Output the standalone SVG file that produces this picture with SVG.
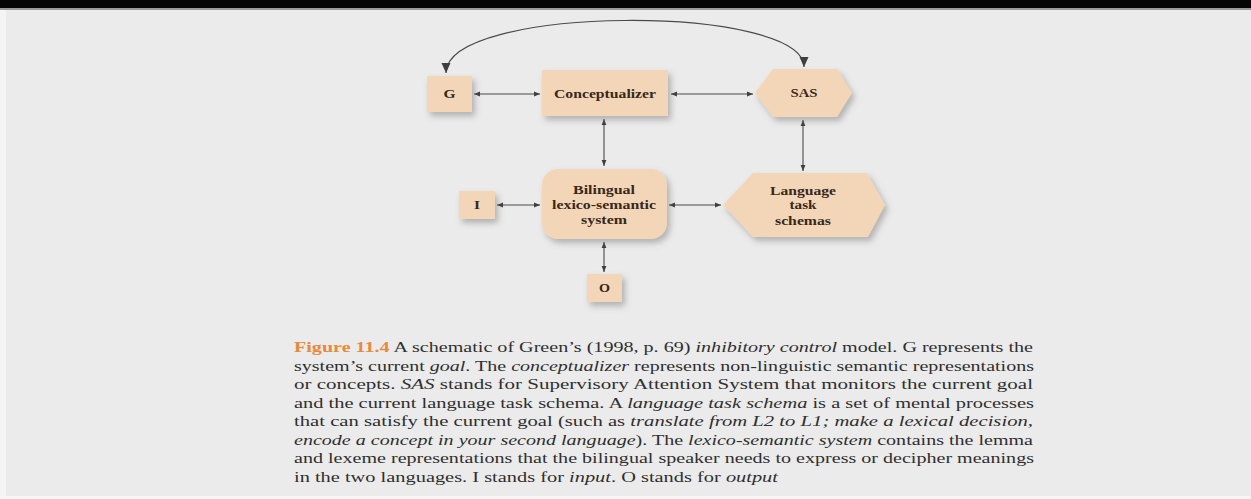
<svg xmlns="http://www.w3.org/2000/svg" width="1251" height="499" viewBox="0 0 1251 499">
  <style>
    .node { fill: #f3d6b7; filter: url(#shadow); }
    .label { font-family: "Liberation Serif", "Times New Roman", serif; font-weight: bold; font-size: 13px; fill: #38281b; text-anchor: middle; }
    .link { fill: none; stroke: #4a4a4a; stroke-width: 1.1; marker-start: url(#head); marker-end: url(#head); }
    .arc { fill: none; stroke: #4a4a4a; stroke-width: 1.2; marker-start: url(#bighead); marker-end: url(#bighead); }
    .cap { font-family: "Liberation Serif", "Times New Roman", serif; font-size: 15px; fill: #2f2f2f; }
    .fig { fill: #e8893c; font-weight: bold; }
    .it { font-style: italic; }
  </style>
  <defs>
    <filter id="shadow" x="-20%" y="-20%" width="150%" height="160%">
      <feDropShadow dx="3" dy="4" stdDeviation="3" flood-color="#6b6b6b" flood-opacity="0.45"/>
    </filter>
    <marker id="head" viewBox="0 0 10 10" refX="10" refY="5" markerWidth="6" markerHeight="6" markerUnits="userSpaceOnUse" orient="auto-start-reverse">
      <path d="M0,1 L10,5 L0,9 Z" fill="#3f3f3f"/>
    </marker>
    <marker id="bighead" viewBox="0 0 10 10" refX="10" refY="5" markerWidth="10" markerHeight="10" markerUnits="userSpaceOnUse" orient="auto-start-reverse">
      <path d="M0,0.5 L10,5 L0,9.5 Z" fill="#3f3f3f"/>
    </marker>
  </defs>

  <!-- page background and frame -->
  <rect x="0" y="0" width="1251" height="499" fill="#ebebeb"/>
  <rect x="0" y="0" width="6" height="499" fill="#f4f4f4"/>
  <rect x="0" y="496" width="1251" height="3" fill="#f6f6f6"/>
  <rect x="0" y="0" width="1251" height="8" fill="#050505"/>
  <rect x="0" y="8" width="1251" height="2" fill="#9a9a9a"/>

  <!-- connectors -->
  <g id="connectors">
    <path class="arc" d="M446,73 C446,4 804,4 804,67"/>
    <line class="link" x1="474" y1="94" x2="540" y2="94"/>
    <line class="link" x1="671" y1="94" x2="753" y2="94"/>
    <line class="link" x1="604" y1="119" x2="604" y2="166"/>
    <line class="link" x1="803" y1="120" x2="803" y2="171"/>
    <line class="link" x1="497" y1="205" x2="540" y2="205"/>
    <line class="link" x1="669" y1="205" x2="721" y2="205"/>
    <line class="link" x1="604" y1="242" x2="604" y2="272"/>
  </g>

  <!-- nodes -->
  <g id="node-g">
    <rect class="node" x="427" y="76" width="45" height="36"/>
    <text class="label" x="449.5" y="98" textLength="12" lengthAdjust="spacingAndGlyphs">G</text>
  </g>
  <g id="node-conceptualizer">
    <rect class="node" x="542" y="70" width="126" height="46"/>
    <text class="label" x="605" y="98" textLength="102" lengthAdjust="spacingAndGlyphs">Conceptualizer</text>
  </g>
  <g id="node-sas">
    <polygon class="node" points="755,93 773,69 837,69 852,93 837,117 773,117"/>
    <text class="label" x="804" y="97" textLength="27" lengthAdjust="spacingAndGlyphs">SAS</text>
  </g>
  <g id="node-bilingual">
    <rect class="node" x="542" y="169" width="125" height="70" rx="16" ry="16"/>
    <text class="label" x="604" y="194" textLength="62" lengthAdjust="spacingAndGlyphs">Bilingual</text>
    <text class="label" x="604" y="209" textLength="104" lengthAdjust="spacingAndGlyphs">lexico-semantic</text>
    <text class="label" x="604" y="224" textLength="46" lengthAdjust="spacingAndGlyphs">system</text>
  </g>
  <g id="node-schemas">
    <polygon class="node" points="723,205 753,173 867,173 885,205 868,237 753,237"/>
    <text class="label" x="803" y="195" textLength="66" lengthAdjust="spacingAndGlyphs">Language</text>
    <text class="label" x="803" y="209" textLength="27" lengthAdjust="spacingAndGlyphs">task</text>
    <text class="label" x="803" y="225" textLength="56" lengthAdjust="spacingAndGlyphs">schemas</text>
  </g>
  <g id="node-i">
    <rect class="node" x="459" y="191" width="36" height="28"/>
    <text class="label" x="477" y="209" textLength="6" lengthAdjust="spacingAndGlyphs">I</text>
  </g>
  <g id="node-o">
    <rect class="node" x="587" y="274" width="35" height="28"/>
    <text class="label" x="604.5" y="292" textLength="11" lengthAdjust="spacingAndGlyphs">O</text>
  </g>

  <!-- caption -->
  <g id="caption" class="cap">
    <text x="294" y="352" textLength="739" lengthAdjust="spacingAndGlyphs"><tspan class="fig">Figure 11.4</tspan>  A schematic of Green’s (1998, p. 69) <tspan class="it">inhibitory control</tspan> model. G represents the</text>
    <text x="294" y="370.5" textLength="740" lengthAdjust="spacingAndGlyphs">system’s current <tspan class="it">goal</tspan>. The <tspan class="it">conceptualizer</tspan> represents non-linguistic semantic representations</text>
    <text x="294" y="389" textLength="739" lengthAdjust="spacingAndGlyphs">or concepts. <tspan class="it">SAS</tspan> stands for Supervisory Attention System that monitors the current goal</text>
    <text x="294" y="407.5" textLength="740" lengthAdjust="spacingAndGlyphs">and the current language task schema. A <tspan class="it">language task schema</tspan> is a set of mental processes</text>
    <text x="294" y="426" textLength="739" lengthAdjust="spacingAndGlyphs">that can satisfy the current goal (such as <tspan class="it">translate from L2 to L1; make a lexical decision,</tspan></text>
    <text x="294" y="444.5" textLength="739" lengthAdjust="spacingAndGlyphs"><tspan class="it">encode a concept in your second language</tspan>). The <tspan class="it">lexico-semantic system</tspan> contains the lemma</text>
    <text x="294" y="463" textLength="740" lengthAdjust="spacingAndGlyphs">and lexeme representations that the bilingual speaker needs to express or decipher meanings</text>
    <text x="294" y="481.5" textLength="484" lengthAdjust="spacingAndGlyphs">in the two languages. I stands for <tspan class="it">input</tspan>. O stands for <tspan class="it">output</tspan></text>
  </g>
</svg>
